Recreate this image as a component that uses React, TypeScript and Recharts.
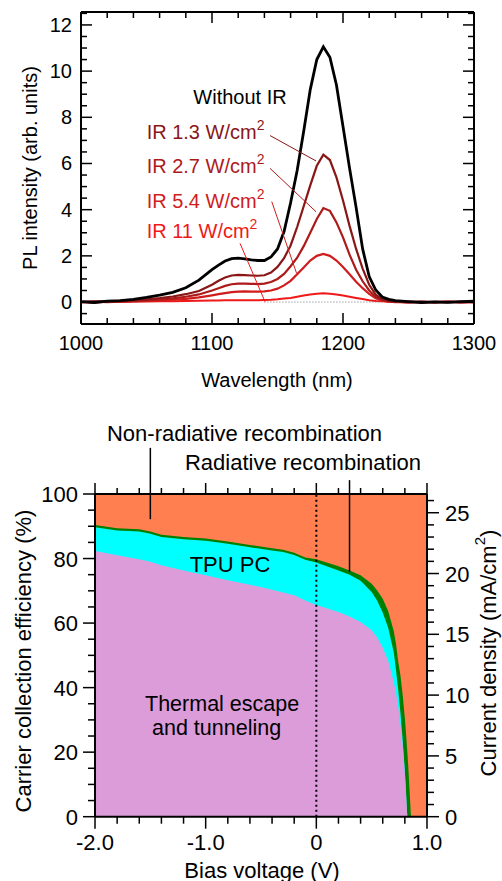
import React from 'react';
import { LineChart, Line, AreaChart, Area, XAxis, YAxis, ReferenceLine, ReferenceDot } from 'recharts';

const FONT = '"Liberation Sans", Arial, Helvetica, sans-serif';
const THIN = 0.01; // axes take (almost) no space; margins hold the room for labels

// ---------- Top chart: PL spectra ----------
const wavelength = [1000, 1010, 1020, 1030, 1040, 1050, 1060, 1070, 1080, 1090, 1100, 1105, 1110, 1115, 1120, 1125, 1130, 1135, 1140, 1145, 1150, 1155, 1160, 1165, 1170, 1175, 1180, 1185, 1190, 1195, 1200, 1205, 1210, 1215, 1220, 1225, 1230, 1235, 1240, 1250, 1260, 1270, 1280, 1290, 1300];
const withoutIR = [0.02, -0.02, 0.04, 0.06, 0.12, 0.2, 0.3, 0.42, 0.62, 0.95, 1.4, 1.6, 1.78, 1.88, 1.9, 1.87, 1.83, 1.8, 1.8, 1.95, 2.3, 3.05, 4.3, 5.7, 7.4, 9.2, 10.5, 11.05, 10.6, 9.4, 7.6, 5.8, 4.1, 2.3, 1.1, 0.52, 0.22, 0.12, 0.06, 0.02, -0.02, 0.01, -0.01, 0.02, 0.04];
const ir13 = [0.0, 0.03, 0.02, 0.05, 0.08, 0.12, 0.17, 0.24, 0.34, 0.48, 0.75, 0.92, 1.06, 1.15, 1.18, 1.17, 1.15, 1.14, 1.16, 1.28, 1.52, 1.9, 2.45, 3.25, 4.15, 5.05, 5.9, 6.38, 6.15, 5.4, 4.4, 3.3, 2.3, 1.45, 0.75, 0.32, 0.12, 0.05, 0.02, 0.0, 0.02, -0.02, 0.01, -0.01, 0.02];
const ir27 = [0.01, -0.01, 0.02, 0.03, 0.05, 0.08, 0.11, 0.16, 0.23, 0.33, 0.5, 0.6, 0.7, 0.77, 0.8, 0.8, 0.79, 0.78, 0.8, 0.87, 1.0, 1.22, 1.55, 1.92, 2.42, 3.0, 3.6, 4.07, 3.95, 3.45, 2.8, 2.05, 1.4, 0.9, 0.5, 0.22, 0.1, 0.04, 0.02, -0.01, 0.01, 0.0, 0.02, 0.0, -0.01];
const ir54 = [0.0, 0.02, 0.0, 0.02, 0.03, 0.05, 0.07, 0.1, 0.14, 0.2, 0.29, 0.34, 0.39, 0.43, 0.45, 0.46, 0.45, 0.45, 0.46, 0.5, 0.58, 0.72, 0.92, 1.2, 1.5, 1.8, 2.0, 2.08, 2.0, 1.8, 1.52, 1.2, 0.88, 0.6, 0.35, 0.16, 0.06, 0.02, 0.0, 0.02, -0.01, 0.01, 0.0, 0.02, 0.0];
const ir11 = [0.0, -0.02, 0.01, 0.0, 0.02, 0.02, 0.03, 0.04, 0.05, 0.06, 0.07, 0.07, 0.08, 0.08, 0.08, 0.08, 0.08, 0.08, 0.09, 0.1, 0.12, 0.15, 0.18, 0.23, 0.28, 0.33, 0.36, 0.38, 0.36, 0.33, 0.28, 0.23, 0.18, 0.13, 0.08, 0.05, 0.03, 0.01, 0.0, -0.02, 0.01, -0.01, 0.02, -0.02, 0.01];

const specXLabels = [1000, 1100, 1200, 1300];
const specYLabels = [0, 2, 4, 6, 8, 10, 12];

const specData = wavelength.map((w, i) => ({
  w,
  k0: withoutIR[i],
  k13: ir13[i],
  k27: ir27[i],
  k54: ir54[i],
  k11: ir11[i],
}));

// ---------- Bottom chart: carrier collection ----------
const bias = [-2.0, -1.8, -1.6, -1.5, -1.4, -1.2, -1.0, -0.8, -0.6, -0.4, -0.3, -0.2, -0.1, 0.0, 0.1, 0.2, 0.3, 0.4, 0.5, 0.55, 0.6, 0.65, 0.7, 0.72, 0.74, 0.76, 0.78, 0.8, 0.81, 0.822, 0.83, 0.84, 0.855, 1.0];
const thermalEscape = [82.3, 81.0, 79.8, 79.0, 77.9, 76.3, 74.8, 73.3, 71.9, 70.3, 69.5, 68.6, 67.0, 65.6, 64.5, 63.4, 62.0, 60.3, 57.8, 55.5, 52.4, 48.2, 41.7, 38.3, 34.1, 28.8, 22.5, 13.5, 7.5, 0, 0, 0, 0, null];
const tpuPC = [89.7, 88.7, 88.4, 87.7, 86.7, 86.0, 85.5, 84.6, 83.5, 82.5, 82.0, 81.1, 79.6, 78.8, 77.5, 76.3, 75.0, 73.1, 69.6, 66.9, 63.3, 58.5, 50.9, 45.4, 39.4, 32.4, 23.9, 14.2, 8.0, 0, 0, 0, 0, null];
const radiative = [90.4, 89.4, 89.1, 88.4, 87.4, 86.7, 86.2, 85.3, 84.2, 83.2, 82.7, 81.8, 80.3, 79.8, 78.7, 77.6, 76.3, 74.8, 72.2, 70.1, 67.5, 63.7, 57.5, 53.5, 48.0, 43.8, 37.8, 30.4, 26.0, 20.2, 16.0, 10.0, 0, null];
const FULL_SCALE = 100; // non-radiative part fills up to 100 %

const biasLabels = [-2, -1, 0, 1];
const effLabels = [0, 20, 40, 60, 80, 100];
const jLabels = [0, 5, 10, 15, 20, 25];
const J_MAX = 26.54; // mA/cm2 at 100 %

const collData = bias.map((v, i) => ({
  v,
  full: FULL_SCALE,
  rad: radiative[i],
  tpu: tpuPC[i],
  th: thermalEscape[i],
}));

function steps(a: number, b: number, s: number) {
  const out: number[] = [];
  const n = Math.round((b - a) / s);
  for (let i = 0; i <= n; i++) out.push(Math.round((a + i * s) * 1000) / 1000);
  return out;
}
const isIn = (arr: number[], v: number) => arr.some((m) => Math.abs(m - v) < 1e-6);

type Side = 'bottom' | 'left' | 'right';
function labelTick(side: Side, fmt: (v: number) => string, fontSize: number, off: number, base: number) {
  return (props: any) => {
    const x = Number(props.x);
    const y = Number(props.y);
    const s = fmt(Number(props.payload.value));
    if (side === 'bottom')
      return <text x={x} y={y + off} textAnchor="middle" fontSize={fontSize} fontFamily={FONT} fill="#000">{s}</text>;
    if (side === 'left')
      return <text x={x - off} y={y + base} textAnchor="end" fontSize={fontSize} fontFamily={FONT} fill="#000">{s}</text>;
    return <text x={x + off} y={y + base} textAnchor="start" fontSize={fontSize} fontFamily={FONT} fill="#000">{s}</text>;
  };
}

const axisLineStyle = { stroke: '#000', strokeWidth: 2 };

// Tick marks drawn as short reference segments in data space.
// `dir` is the signed length in data units per pixel direction.
function tickMarks(key: string, xId: string, yId: string, values: number[], majors: number[], majorLen: number, minorLen: number, seg: (v: number, len: number) => [{ x: number; y: number }, { x: number; y: number }]) {
  return values.map((v) => (
    <ReferenceLine key={key + v} xAxisId={xId} yAxisId={yId} segment={seg(v, isIn(majors, v) ? majorLen : minorLen)} stroke="#000" strokeWidth={1.5} ifOverflow="visible" />
  ));
}

const C13 = '#8a1616';
const C27 = '#ad1a1a';
const C54 = '#d01c1c';
const C11 = '#f01818';

const textShape = (content: React.ReactNode, color: string, size: number, anchor: 'start' | 'middle' | 'end') => (p: any) => (
  <text x={p.cx} y={p.cy} fill={color} fontSize={size} fontFamily={FONT} textAnchor={anchor}>{content}</text>
);

const irText = (val: string) => (
  <>
    {`IR ${val} W/cm`}
    <tspan dy={-9} fontSize={14}>2</tspan>
  </>
);

function SpectraChart() {
  const W = 502, H = 400;
  const M = { top: 12, right: 28, bottom: 76, left: 81 };
  const xDom: [number, number] = [1000, 1300];
  const yDom: [number, number] = [-0.95, 12.56];
  const pxX = (W - M.left - M.right) / (xDom[1] - xDom[0]);
  const pxY = (H - M.top - M.bottom) / (yDom[1] - yDom[0]);
  const xMinor = steps(1000, 1300, 20);
  const yMinor = steps(-0.5, 12.5, 0.5);
  return (
    <LineChart width={W} height={H} data={specData} margin={M}>
      <Line xAxisId="b" yAxisId="l" dataKey="k11" type="linear" stroke={C11} strokeWidth={2} dot={false} activeDot={false} isAnimationActive={false} />
      <Line xAxisId="b" yAxisId="l" dataKey="k54" type="linear" stroke={C54} strokeWidth={2.2} dot={false} activeDot={false} isAnimationActive={false} />
      <Line xAxisId="b" yAxisId="l" dataKey="k27" type="linear" stroke={C27} strokeWidth={2.2} dot={false} activeDot={false} isAnimationActive={false} />
      <Line xAxisId="b" yAxisId="l" dataKey="k13" type="linear" stroke={C13} strokeWidth={2.2} dot={false} activeDot={false} isAnimationActive={false} />
      <Line xAxisId="b" yAxisId="l" dataKey="k0" type="linear" stroke="#000" strokeWidth={2.8} dot={false} activeDot={false} isAnimationActive={false} />
      <ReferenceLine xAxisId="b" yAxisId="l" segment={[{ x: 1140, y: 0 }, { x: 1230, y: 0 }]} stroke="#777" strokeWidth={1} strokeDasharray="1 2" />
      <ReferenceLine xAxisId="b" yAxisId="l" segment={[{ x: 1144.3, y: 7.21 }, { x: 1179.4, y: 6.11 }]} stroke={C13} strokeWidth={1} />
      <ReferenceLine xAxisId="b" yAxisId="l" segment={[{ x: 1144.3, y: 5.79 }, { x: 1179.4, y: 3.91 }]} stroke={C27} strokeWidth={1} />
      <ReferenceLine xAxisId="b" yAxisId="l" segment={[{ x: 1145.6, y: 4.35 }, { x: 1164.6, y: 1.24 }]} stroke={C54} strokeWidth={1} />
      <ReferenceLine xAxisId="b" yAxisId="l" segment={[{ x: 1121.4, y: 2.54 }, { x: 1140.5, y: 0.01 }]} stroke={C11} strokeWidth={1} />
      <ReferenceDot xAxisId="b" yAxisId="l" x={1121.4} y={8.56} r={0} shape={textShape('Without IR', '#000', 20, 'middle')} />
      <ReferenceDot xAxisId="b" yAxisId="l" x={1050.1} y={7.05} r={0} shape={textShape(irText('1.3'), C13, 20, 'start')} />
      <ReferenceDot xAxisId="b" yAxisId="l" x={1050.1} y={5.58} r={0} shape={textShape(irText('2.7'), C27, 20, 'start')} />
      <ReferenceDot xAxisId="b" yAxisId="l" x={1050.1} y={4.06} r={0} shape={textShape(irText('5.4'), C54, 20, 'start')} />
      <ReferenceDot xAxisId="b" yAxisId="l" x={1050.1} y={2.76} r={0} shape={textShape(irText('11'), C11, 20, 'start')} />
      {/* frame: top and right */}
      <ReferenceLine xAxisId="b" yAxisId="l" y={yDom[1]} stroke="#000" strokeWidth={2} ifOverflow="visible" />
      <ReferenceLine xAxisId="b" yAxisId="l" x={xDom[1]} stroke="#000" strokeWidth={2} ifOverflow="visible" />
      {/* inward tick marks on all four sides */}
      {tickMarks('sb', 'b', 'l', xMinor, specXLabels, 11, 6, (v, len) => [{ x: v, y: yDom[0] }, { x: v, y: yDom[0] + len / pxY }])}
      {tickMarks('st', 'b', 'l', xMinor, specXLabels, 11, 6, (v, len) => [{ x: v, y: yDom[1] }, { x: v, y: yDom[1] - len / pxY }])}
      {tickMarks('sl', 'b', 'l', yMinor, specYLabels, 11, 6, (v, len) => [{ x: xDom[0], y: v }, { x: xDom[0] + len / pxX, y: v }])}
      {tickMarks('sr', 'b', 'l', yMinor, specYLabels, 11, 6, (v, len) => [{ x: xDom[1], y: v }, { x: xDom[1] - len / pxX, y: v }])}
      <XAxis xAxisId="b" type="number" dataKey="w" orientation="bottom" domain={xDom} allowDataOverflow ticks={specXLabels} interval={0} height={THIN} tickSize={0} tickMargin={0} tickLine={false} axisLine={axisLineStyle} tick={labelTick('bottom', (v) => String(v), 20, 26, 0)} />
      <YAxis yAxisId="l" type="number" orientation="left" domain={yDom} allowDataOverflow ticks={specYLabels} interval={0} width={THIN} tickSize={0} tickMargin={0} tickLine={false} axisLine={axisLineStyle} tick={labelTick('left', (v) => String(v), 20, 9, 7)} />
      <text x={30} y={168} transform="rotate(-90 30 168)" textAnchor="middle" dominantBaseline="central" fontSize={20} fontFamily={FONT} fill="#000">PL intensity (arb. units)</text>
      <text x={277} y={387} textAnchor="middle" fontSize={20} fontFamily={FONT} fill="#000">Wavelength (nm)</text>
    </LineChart>
  );
}

function CollectionChart() {
  const W = 502, H = 481;
  const M = { top: 94, right: 75, bottom: 64.3, left: 95 };
  const xDom: [number, number] = [-2, 1];
  const yDom: [number, number] = [0, 100];
  const jDom: [number, number] = [0, J_MAX];
  const pxX = (W - M.left - M.right) / (xDom[1] - xDom[0]);
  const pxY = (H - M.top - M.bottom) / (yDom[1] - yDom[0]);
  const xMinor = steps(-2, 1, 0.2);
  const yMinor = steps(0, 100, 5);
  const jMinor = steps(0, 26, 1);
  const fmtBias = (v: number) => (Math.abs(v) < 1e-9 ? '0' : v.toFixed(1));
  return (
    <AreaChart width={W} height={H} data={collData} margin={M}>
      <Area xAxisId="b" yAxisId="l" dataKey="full" type="linear" fill="#ff7f50" fillOpacity={1} stroke="none" dot={false} activeDot={false} isAnimationActive={false} />
      <Area xAxisId="b" yAxisId="l" dataKey="rad" type="linear" fill="#007f00" fillOpacity={1} stroke="none" dot={false} activeDot={false} isAnimationActive={false} />
      <Area xAxisId="b" yAxisId="l" dataKey="tpu" type="linear" fill="#00ffff" fillOpacity={1} stroke="none" dot={false} activeDot={false} isAnimationActive={false} />
      <Area xAxisId="b" yAxisId="l" dataKey="th" type="linear" fill="#dc9cda" fillOpacity={1} stroke="none" dot={false} activeDot={false} isAnimationActive={false} />
      <ReferenceLine xAxisId="b" yAxisId="l" x={0} stroke="#000" strokeWidth={2} strokeDasharray="2 3" />
      <ReferenceLine xAxisId="b" yAxisId="l" segment={[{ x: -1.5, y: 92.2 }, { x: -1.5, y: 114.3 }]} stroke="#000" strokeWidth={1.5} ifOverflow="visible" />
      <ReferenceLine xAxisId="b" yAxisId="l" segment={[{ x: 0.3, y: 75.9 }, { x: 0.3, y: 104.3 }]} stroke="#000" strokeWidth={1.5} ifOverflow="visible" />
      <ReferenceDot xAxisId="b" yAxisId="l" x={-1.892} y={116.4} r={0} ifOverflow="visible" shape={textShape('Non-radiative recombination', '#000', 22, 'start')} />
      <ReferenceDot xAxisId="b" yAxisId="l" x={-1.187} y={107.4} r={0} ifOverflow="visible" shape={textShape('Radiative recombination', '#000', 22, 'start')} />
      <ReferenceDot xAxisId="b" yAxisId="l" x={-0.78} y={75.8} r={0} shape={textShape('TPU PC', '#000', 22, 'middle')} />
      <ReferenceDot xAxisId="b" yAxisId="l" x={-1.548} y={32.8} r={0} shape={textShape('Thermal escape', '#000', 21.5, 'start')} />
      <ReferenceDot xAxisId="b" yAxisId="l" x={-1.485} y={25.3} r={0} shape={textShape('and tunneling', '#000', 21.5, 'start')} />
      {/* frame: top */}
      <ReferenceLine xAxisId="b" yAxisId="l" y={yDom[1]} stroke="#000" strokeWidth={2} ifOverflow="visible" />
      {/* outward tick marks */}
      {tickMarks('cb', 'b', 'l', xMinor, biasLabels, 12, 7, (v, len) => [{ x: v, y: yDom[0] }, { x: v, y: yDom[0] - len / pxY }])}
      {tickMarks('ct', 'b', 'l', xMinor, biasLabels, 11, 6, (v, len) => [{ x: v, y: yDom[1] }, { x: v, y: yDom[1] + len / pxY }])}
      {tickMarks('cl', 'b', 'l', yMinor, effLabels, 12, 7, (v, len) => [{ x: xDom[0], y: v }, { x: xDom[0] - len / pxX, y: v }])}
      {tickMarks('cr', 'b', 'r', jMinor, jLabels, 12, 7, (v, len) => [{ x: xDom[1], y: v }, { x: xDom[1] + len / pxX, y: v }])}
      <XAxis xAxisId="b" type="number" dataKey="v" orientation="bottom" domain={xDom} allowDataOverflow ticks={biasLabels} interval={0} height={THIN} tickSize={0} tickMargin={0} tickLine={false} axisLine={axisLineStyle} tick={labelTick('bottom', fmtBias, 22, 33, 0)} />
      <YAxis yAxisId="l" type="number" orientation="left" domain={yDom} allowDataOverflow ticks={effLabels} interval={0} width={THIN} tickSize={0} tickMargin={0} tickLine={false} axisLine={axisLineStyle} tick={labelTick('left', (v) => String(v), 22, 17, 8)} />
      <YAxis yAxisId="r" type="number" orientation="right" domain={jDom} allowDataOverflow ticks={jLabels} interval={0} width={THIN} tickSize={0} tickMargin={0} tickLine={false} axisLine={axisLineStyle} tick={labelTick('right', (v) => String(v), 22, 18, 8)} />
      <text x={23} y={261} transform="rotate(-90 23 261)" textAnchor="middle" dominantBaseline="central" fontSize={22} fontFamily={FONT} fill="#000">Carrier collection efficiency (%)</text>
      <text x={488} y={253} transform="rotate(-90 488 253)" textAnchor="middle" dominantBaseline="central" fontSize={22} fontFamily={FONT} fill="#000">
        Current density (mA/cm<tspan dy={-9} fontSize={15}>2</tspan><tspan dy={9}>)</tspan>
      </text>
      <text x={262} y={477.5} textAnchor="middle" fontSize={22} fontFamily={FONT} fill="#000">Bias voltage (V)</text>
    </AreaChart>
  );
}

export default function App() {
  return (
    <div style={{ position: 'absolute', left: 0, top: 0, width: 502, height: 881, background: '#fff', overflow: 'hidden' }}>
      <div style={{ position: 'absolute', left: 0, top: 0 }}>
        <SpectraChart />
      </div>
      <div style={{ position: 'absolute', left: 0, top: 400 }}>
        <CollectionChart />
      </div>
    </div>
  );
}
